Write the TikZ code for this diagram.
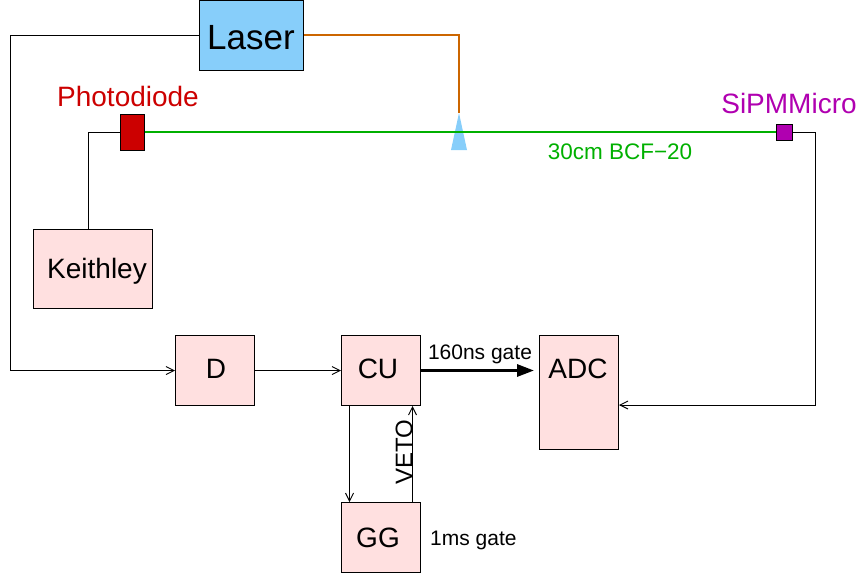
\documentclass[tikz,border=0pt]{standalone}
\usepackage{fontspec}
\setmainfont{Liberation Sans}
\usetikzlibrary{arrows.meta}
\definecolor{pinkfill}{RGB}{255,224,224}
\definecolor{laserblue}{RGB}{135,206,250}
\definecolor{pdred}{RGB}{204,0,0}
\definecolor{fibgreen}{RGB}{0,176,0}
\definecolor{sipmcol}{RGB}{176,0,176}
\definecolor{cablecol}{RGB}{204,102,0}
\begin{document}
\begin{tikzpicture}[x=1pt,y=-1pt,
  box/.style={draw=black, line width=1pt, fill=pinkfill, anchor=north west, inner sep=0pt,
    minimum width=79pt, minimum height=70pt},
  boxtext/.style={font=\fontsize{28}{28}\selectfont, inner sep=0pt},
  wire/.style={line width=0.9pt, black},
  tip/.style={-{Straight Barb[length=8pt,width=8pt,line width=0.9pt]}},
  lbl/.style={font=\fontsize{21}{21}\selectfont, inner sep=0pt}
]
\useasboundingbox (0,0) rectangle (860,579);

% boxes
\node[box, fill=laserblue, minimum width=104pt, minimum height=70pt] (laser) at (199,0) {};
\node[boxtext, font=\fontsize{35}{35}\selectfont] (lasertext) at (251,38) {Laser};

\node[box, minimum width=119pt, minimum height=79pt] (keith) at (33,229) {};
\node[boxtext] (keithtext) at (97,271) {Keithley};

\node[box] (d) at (175,335) {};
\node[boxtext] (dtext) at (216,369) {D};

\node[box] (cu) at (341,335) {};
\node[boxtext] (cutext) at (378,369) {CU};

\node[box, minimum height=114pt] (adc) at (539,335) {};
\node[boxtext] (adctext) at (578,369) {ADC};

\node[box] (gg) at (341,502) {};
\node[boxtext] (ggtext) at (378,538) {GG};

% detectors
\node[draw=black, line width=0.8pt, fill=pdred, anchor=north west, inner sep=0pt,
  minimum width=24pt, minimum height=36pt] (pd) at (120,114) {};
\node[boxtext, text=pdred] (pdlabel) at (128,96) {Photodiode};

\node[draw=black, line width=0.8pt, fill=sipmcol, anchor=north west, inner sep=0pt,
  minimum width=16pt, minimum height=16pt] (sipm) at (776,124) {};
\node[boxtext, text=sipmcol] (sipmlabel) at (789,103) {SiPMMicro};

% light cone
\coordinate (coneapex) at (459,113);
\fill[laserblue] (coneapex) -- (451,150) -- (467,150) -- cycle;

% fibre
\draw[draw=fibgreen, line width=2pt] (pd.east) -- (sipm.west);
\node[lbl, text=fibgreen, font=\fontsize{22.5}{22.5}\selectfont] (fibtext) at (620,152) {30cm BCF\textminus20};

% laser to cone
\draw[draw=cablecol, line width=2pt] ([yshift=0.5pt]laser.east) -| (coneapex);

% wires
\draw[wire, tip] (laser.west) -- ++(-189,0) |- (d.west);
\draw[wire] (pd.west) -| ([xshift=-4.5pt]keith.north);
\draw[wire, tip] (sipm.east) -| (815,405) -- (adc.east |- 0,405);
\draw[wire, tip] (d.east) -- (cu.west);
\draw[line width=3pt, -{Triangle[length=17pt,width=12pt]}, shorten >=5pt]
  (cu.east) -- (cu.east -| adc.west);
\node[lbl] (gatetext) at (480,354) {160ns gate};
\draw[wire, tip] ([xshift=-31.5pt]cu.south) -- ([xshift=-31.5pt]gg.north);
\draw[wire, tip] ([xshift=31.5pt]gg.north) -- ([xshift=31.5pt]cu.south);
\node[lbl, rotate=90, font=\fontsize{24}{24}\selectfont] (vetotext) at (404,452) {VETO};
\node[lbl, anchor=west] (msgate) at (430,540) {1ms gate};
\end{tikzpicture}
\end{document}
